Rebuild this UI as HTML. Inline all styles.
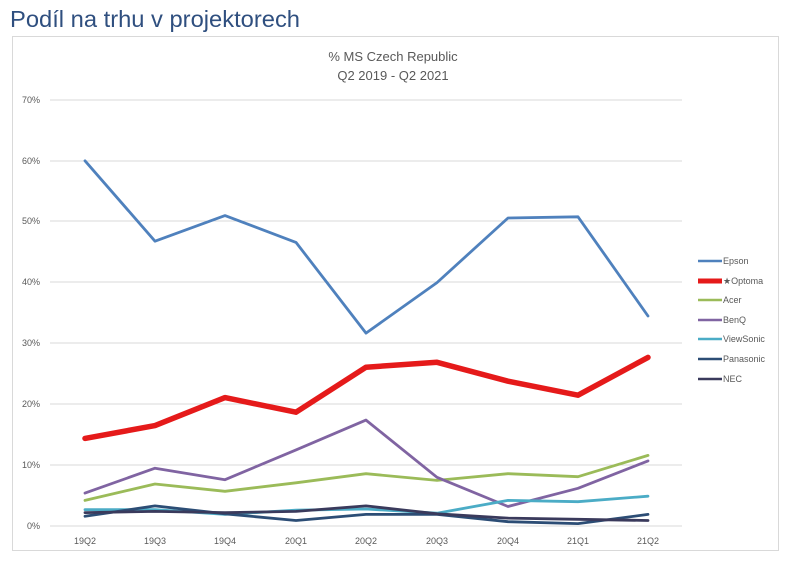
<!DOCTYPE html>
<html><head><meta charset="utf-8"><style>
body{margin:0;background:#fff;width:787px;height:560px;overflow:hidden;font-family:"Liberation Sans",sans-serif}
</style></head><body>
<svg width="787" height="560" xmlns="http://www.w3.org/2000/svg" font-family="Liberation Sans, sans-serif">
<text x="10" y="27" font-size="23" fill="#2f4f7f" textLength="290" lengthAdjust="spacingAndGlyphs">Podíl na trhu v projektorech</text>
<rect x="12.5" y="36.5" width="766" height="514" fill="#fff" stroke="#d9d9d9"/>
<text x="393" y="61" font-size="13" fill="#595959" text-anchor="middle">% MS Czech Republic</text>
<text x="393" y="80" font-size="13" fill="#595959" text-anchor="middle">Q2 2019 - Q2 2021</text>
<g stroke="#d9d9d9" stroke-width="1">
<line x1="50" x2="682" y1="100" y2="100"/><line x1="50" x2="682" y1="161" y2="161"/>
<line x1="50" x2="682" y1="221" y2="221"/><line x1="50" x2="682" y1="282" y2="282"/>
<line x1="50" x2="682" y1="343" y2="343"/><line x1="50" x2="682" y1="404" y2="404"/>
<line x1="50" x2="682" y1="465" y2="465"/><line x1="50" x2="682" y1="526" y2="526"/>
</g>
<g font-size="9" fill="#595959" text-anchor="end">
<text x="40" y="103">70%</text><text x="40" y="164">60%</text><text x="40" y="224">50%</text>
<text x="40" y="285">40%</text><text x="40" y="346">30%</text><text x="40" y="407">20%</text>
<text x="40" y="468">10%</text><text x="40" y="529">0%</text>
</g>
<g font-size="9" fill="#595959" text-anchor="middle">
<text x="85" y="544">19Q2</text><text x="155" y="544">19Q3</text><text x="225" y="544">19Q4</text>
<text x="296" y="544">20Q1</text><text x="366" y="544">20Q2</text><text x="437" y="544">20Q3</text>
<text x="508" y="544">20Q4</text><text x="578" y="544">21Q1</text><text x="648" y="544">21Q2</text>
</g>
<g fill="none" stroke-linejoin="round" stroke-linecap="round">
<polyline stroke="#4f81bd" stroke-width="2.8" points="85,160.8 155,241.2 225,215.6 296,242.4 366,333.1 437,282.6 508,218 578,216.8 648,316"/>
<polyline stroke="#9bbb59" stroke-width="2.8" points="85,500.4 155,484 225,491.3 296,482.8 366,473.7 437,480.4 508,473.7 578,476.7 648,455.4"/>
<polyline stroke="#8064a2" stroke-width="2.8" points="85,493.1 155,468.2 225,479.7 296,449.9 366,420.1 437,477.3 508,506.5 578,488.3 648,460.9"/>
<polyline stroke="#4bacc6" stroke-width="2.8" points="85,509.6 155,509.6 225,514.4 296,510.2 366,509 437,513.2 508,500.4 578,501.7 648,496.2"/>
<polyline stroke="#2c4d75" stroke-width="2.8" points="85,516.3 155,505.9 225,513.8 296,520.5 366,514.4 437,514.4 508,521.7 578,523.6 648,514.4"/>
<polyline stroke="#3a3a5c" stroke-width="2.8" points="85,512.6 155,511.4 225,512.6 296,511.4 366,505.9 437,513.8 508,518.1 578,519.3 648,520.5"/>
<polyline stroke="#e51a1a" stroke-width="5.5" points="85,438.4 155,425.6 225,397.6 296,412.2 366,367.2 437,362.3 508,381.2 578,395.2 648,357.4"/>
</g>
<g font-size="9" fill="#595959">
<line x1="698" x2="722" y1="261" y2="261" stroke="#4f81bd" stroke-width="2.5"/><text x="723" y="264">Epson</text>
<line x1="698" x2="722" y1="281" y2="281" stroke="#e51a1a" stroke-width="5"/><text x="723" y="284">★Optoma</text>
<line x1="698" x2="722" y1="300" y2="300" stroke="#9bbb59" stroke-width="2.5"/><text x="723" y="303">Acer</text>
<line x1="698" x2="722" y1="320" y2="320" stroke="#8064a2" stroke-width="2.5"/><text x="723" y="323">BenQ</text>
<line x1="698" x2="722" y1="339" y2="339" stroke="#4bacc6" stroke-width="2.5"/><text x="723" y="342">ViewSonic</text>
<line x1="698" x2="722" y1="359" y2="359" stroke="#2c4d75" stroke-width="2.5"/><text x="723" y="362">Panasonic</text>
<line x1="698" x2="722" y1="379" y2="379" stroke="#3a3a5c" stroke-width="2.5"/><text x="723" y="382">NEC</text>
</g>
</svg>
</body></html>
